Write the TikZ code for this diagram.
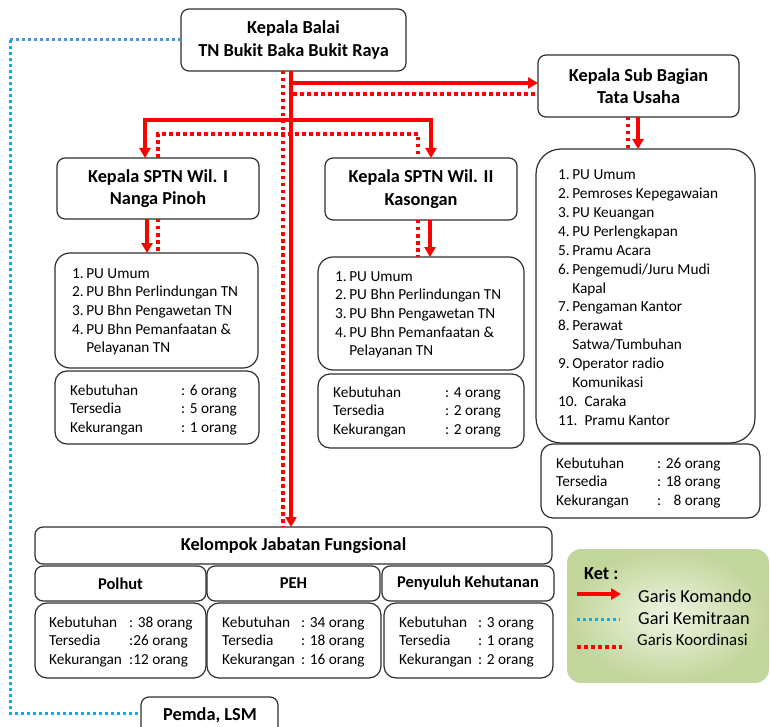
\documentclass[tikz,border=0pt]{standalone}
\usepackage{fontspec}
\setmainfont{Carlito}
\usetikzlibrary{fit,arrows.meta}
\definecolor{kred}{HTML}{FF0000}
\definecolor{kblue}{HTML}{00B0F0}
\definecolor{kbluetwo}{HTML}{4F94DA}
\definecolor{bord}{HTML}{2E2E2E}
\definecolor{ketin}{HTML}{EEF4E3}
\definecolor{ketout}{HTML}{C2D59A}
\begin{document}
\begin{tikzpicture}[x=1pt,y=-1pt,
  box/.style={draw=bord, line width=1.2pt, rounded corners=#1, inner sep=0pt, outer sep=0pt, fill=white},
  box/.default=8pt,
  ttl/.style={font=\fontsize{18.3}{22.3}\selectfont\bfseries, align=center, inner sep=0pt},
  sub/.style={font=\fontsize{16.5}{20}\selectfont\bfseries, align=center, inner sep=0pt},
  lst/.style={font=\fontsize{15.3}{18.7}\selectfont, anchor=base west, inner sep=0pt},
  lstb/.style={font=\fontsize{15.3}{18.85}\selectfont, anchor=base west, inner sep=0pt},
  komando/.style={draw=kred, line width=3.8pt, -{Triangle[length=10pt,width=11pt]}},
  koord/.style={draw=kred, line width=3.5pt, dash pattern=on 3.5pt off 3.5pt},
  mitra/.style={draw=kblue, line width=3pt, dash pattern=on 3pt off 3pt},
  legtxt/.style={font=\fontsize{18.3}{22}\selectfont, anchor=base west, inner sep=0pt},
]
\useasboundingbox (0,0) rectangle (770,727);

% ---------- boxes ----------
\node[box, fit={(181,9)(406,71)}] (balai) {};
\node[ttl] (balaiT) at (balai.center) {Kepala Balai\\TN Bukit Baka Bukit Raya};
\node[box, fit={(538,55)(739,117)}] (tu) {};
\node[ttl] (tuT) at (tu.center) {Kepala Sub Bagian\\Tata Usaha};
\node[box, fit={(57,158)(259,219)}] (s1) {};
\node[ttl] (s1T) at (s1.center) {Kepala SPTN Wil. I\\Nanga Pinoh};
\node[box, fit={(325,158)(517,220)}] (s2) {};
\node[ttl] (s2T) at (s2.center) {Kepala SPTN Wil. II\\Kasongan};

\node[box=15pt, fit={(55,253)(258,368)}] (l1) {};
\node[box=12pt, fit={(55,371)(259,444)}] (st1) {};
\node[box=15pt, fit={(318,257)(524,370)}] (l2) {};
\node[box=12pt, fit={(318,374)(524,448)}] (st2) {};
\node[box=25pt, fit={(536,149)(755,443)}] (l3) {};
\node[box=12pt, fit={(541,444)(760,518)}] (st3) {};

\node[box, fit={(35,527)(552,564)}] (kjf) {};
\node[ttl] (kjfT) at (kjf.center) {Kelompok Jabatan Fungsional};
\node[box, fit={(35,566)(206,601)}] (h1) {};
\node[sub] (h1T) at (h1.center) {Polhut};
\node[box, fit={(207,566)(380,601)}] (h2) {};
\node[sub] (h2T) at (h2.center) {PEH};
\node[box, fit={(382,566)(554,601)}] (h3) {};
\node[sub] (h3T) at (h3.center) {Penyuluh Kehutanan};
\node[box=12pt, fit={(35,603)(206,678)}] (k1) {};
\node[box=12pt, fit={(207,603)(381,678)}] (k2) {};
\node[box=12pt, fit={(384,603)(553,678)}] (k3) {};

\node[box, fit={(141,697)(278,735)}] (pemda) {};
\node[ttl] (pemdaT) at (210,715) {Pemda, LSM};

% ---------- list texts ----------
\node[lst] (t1) at (72,278) {\begin{tabular}[t]{@{}l@{\hspace{2.5pt}}l@{}}
1.&PU Umum\\ 2.&PU Bhn Perlindungan TN\\ 3.&PU Bhn Pengawetan TN\\ 4.&PU Bhn Pemanfaatan \&\\ &Pelayanan TN\end{tabular}};
\node[lst] (t2) at (335,281) {\begin{tabular}[t]{@{}l@{\hspace{2.5pt}}l@{}}
1.&PU Umum\\ 2.&PU Bhn Perlindungan TN\\ 3.&PU Bhn Pengawetan TN\\ 4.&PU Bhn Pemanfaatan \&\\ &Pelayanan TN\end{tabular}};
\node[lstb] (t3) at (558,180) {\begin{tabular}[t]{@{}l@{\hspace{2.5pt}}l@{}}
1.&PU Umum\\ 2.&Pemroses Kepegawaian\\ 3.&PU Keuangan\\ 4.&PU Perlengkapan\\ 5.&Pramu Acara\\
6.&Pengemudi/Juru Mudi\\ &Kapal\\ 7.&Pengaman Kantor\\ 8.&Perawat\\ &Satwa/Tumbuhan\\
9.&Operator radio\\ &Komunikasi\\ \multicolumn{2}{@{}l@{}}{10.\hspace{7pt}Caraka}\\
\multicolumn{2}{@{}l@{}}{11.\hspace{7pt}Pramu Kantor}\end{tabular}};

% ---------- stats texts ----------
\node[lst] (u1) at (70,395) {\begin{tabular}[t]{@{}l@{}}
\makebox[111pt][l]{Kebutuhan}: 6 orang\\ \makebox[111pt][l]{Tersedia}: 5 orang\\ \makebox[111pt][l]{Kekurangan}: 1 orang\end{tabular}};
\node[lst] (u2) at (333,397) {\begin{tabular}[t]{@{}l@{}}
\makebox[112pt][l]{Kebutuhan}: 4 orang\\ \makebox[112pt][l]{Tersedia}: 2 orang\\ \makebox[112pt][l]{Kekurangan}: 2 orang\end{tabular}};
\node[lst] (u3) at (556,468) {\begin{tabular}[t]{@{}l@{}}
\makebox[101pt][l]{Kebutuhan}: 26 orang\\ \makebox[101pt][l]{Tersedia}: 18 orang\\ \makebox[101pt][l]{Kekurangan}: \phantom{2}8 orang\end{tabular}};
\node[lst] (v1) at (49,627) {\begin{tabular}[t]{@{}l@{}}
\makebox[80pt][l]{Kebutuhan}: 38 orang\\ \makebox[80pt][l]{Tersedia}:26 orang\\ \makebox[80pt][l]{Kekurangan}:12 orang\end{tabular}};
\node[lst] (v2) at (222,627) {\begin{tabular}[t]{@{}l@{}}
\makebox[79pt][l]{Kebutuhan}: 34 orang\\ \makebox[79pt][l]{Tersedia}: 18 orang\\ \makebox[79pt][l]{Kekurangan}: 16 orang\end{tabular}};
\node[lst] (v3) at (399,627) {\begin{tabular}[t]{@{}l@{}}
\makebox[79pt][l]{Kebutuhan}: 3 orang\\ \makebox[79pt][l]{Tersedia}: 1 orang\\ \makebox[79pt][l]{Kekurangan}: 2 orang\end{tabular}};

% ---------- helper coordinates ----------
\coordinate (xa) at (291,0);
\coordinate (xb) at (283,0);
\coordinate (hk) at (291,83);
\coordinate (hd) at (293,94);
\coordinate (hs) at (291,120);
\coordinate (c145) at (145,0);
\coordinate (c431) at (431,0);
\coordinate (d1) at (158,134);
\coordinate (d2) at (418,134);
\coordinate (e1) at (147,0);
\coordinate (e2) at (430,0);
\coordinate (f1) at (638,0);
\coordinate (f2) at (628,0);
\coordinate (bl1) at (10,40);
\coordinate (bl2) at (10,713);

% ---------- connectors: coordination (dotted) ----------
\draw[koord] (balai.south -| xb) -- (kjf.north -| xb);
\draw[koord] (hd) -- (tu.west |- hd);
\draw[koord] (s1.north -| d1) -- (d1) -- (d2) -- (s2.north -| d2);
\draw[koord] (s1.south -| d1) -- (l1.north -| d1);
\draw[koord] (s2.south -| d2) -- (l2.north -| d2);
\draw[koord] (tu.south -| f2) -- (l3.north -| f2);

% ---------- connectors: command (solid) ----------
\draw[komando] (balai.south -| xa) -- (kjf.north -| xa);
\draw[komando] (hk) -- (tu.west |- hk);
\draw[komando] (hs) -| (s1.north -| c145);
\draw[komando] (hs) -| (s2.north -| c431);
\draw[komando] (s1.south -| e1) -- (l1.north -| e1);
\draw[komando] (s2.south -| e2) -- (l2.north -| e2);
\draw[komando] (tu.south -| f1) -- (l3.north -| f1);

% ---------- partnership (blue dotted) ----------
\draw[mitra, draw=kbluetwo] (balai.west) -- (bl1);
\draw[mitra] (bl1) -- (bl2) -- (pemda.west |- bl2);

% ---------- legend ----------
\node[fit={(567,549)(769,683)}, inner sep=0pt, rounded corners=14pt, shade, inner color=ketin, outer color=ketout] (ket) {};
\node[legtxt, font=\fontsize{18.3}{22}\selectfont\bfseries] (ketl) at (584,579) {Ket :};
\coordinate (ga) at (577,594);
\coordinate (gb) at (621,594);
\coordinate (gc) at (577,619);
\coordinate (gd) at (620,619);
\coordinate (ge) at (577,647);
\coordinate (gf) at (622,647);
\draw[komando, line width=3.5pt] (ga) -- (gb);
\draw[mitra] (gc) -- (gd);
\draw[koord] (ge) -- (gf);
\node[legtxt] (gk) at (638,602) {Garis Komando};
\node[legtxt] (gm) at (638,624) {Gari Kemitraan};
\node[legtxt, font=\fontsize{16.8}{20}\selectfont] (gko) at (637,645) {Garis Koordinasi};
\end{tikzpicture}
\end{document}
